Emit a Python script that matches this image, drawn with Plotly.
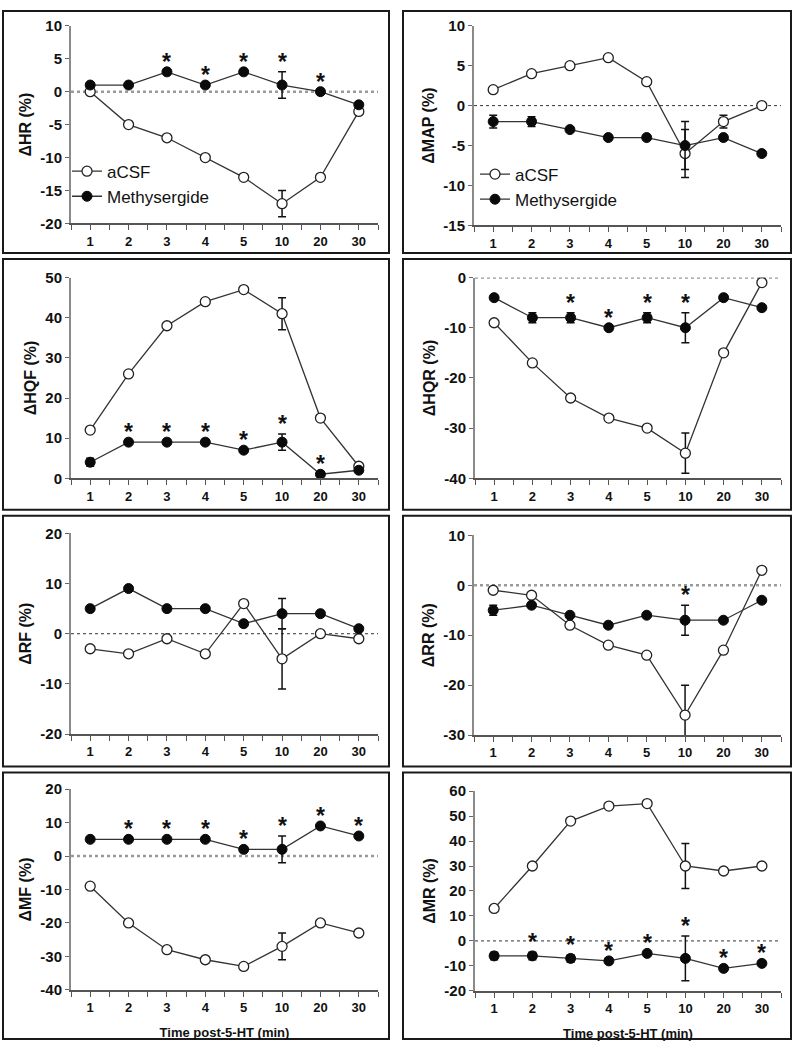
import plotly.graph_objects as go

# ---------------- data ----------------
times = ['1', '2', '3', '4', '5', '10', '20', '30']

hr_acsf = [0, -5, -7, -10, -13, -17, -13, -3]
hr_acsf_err = [0, 0, 0, 0, 0, 2, 0, 0]
hr_meth = [1, 1, 3, 1, 3, 1, 0, -2]
hr_meth_err = [0, 0, 0, 0, 0, 2, 0, 0]
hr_sig = [0, 0, 1, 1, 1, 1, 1, 0]

map_acsf = [2, 4, 5, 6, 3, -6, -2, 0]
map_acsf_err = [0, 0, 0, 0, 0, 3, 0.8, 0]
map_meth = [-2, -2, -3, -4, -4, -5, -4, -6]
map_meth_err = [0.8, 0.6, 0, 0, 0, 3, 0, 0]
map_sig = [0, 0, 0, 0, 0, 0, 0, 0]

hqf_acsf = [12, 26, 38, 44, 47, 41, 15, 3]
hqf_acsf_err = [0, 0, 0, 0, 0, 4, 0, 0]
hqf_meth = [4, 9, 9, 9, 7, 9, 1, 2]
hqf_meth_err = [1, 0, 0, 0, 0, 2, 0, 0]
hqf_sig = [0, 1, 1, 1, 1, 1, 1, 0]

hqr_acsf = [-9, -17, -24, -28, -30, -35, -15, -1]
hqr_acsf_err = [0, 0, 0, 0, 0, 4, 0, 0]
hqr_meth = [-4, -8, -8, -10, -8, -10, -4, -6]
hqr_meth_err = [0, 1, 1, 0, 1, 3, 0, 0]
hqr_sig = [0, 0, 1, 1, 1, 1, 0, 0]

rf_acsf = [-3, -4, -1, -4, 6, -5, 0, -1]
rf_acsf_err = [0, 0, 0, 0, 0, 6, 0, 0]
rf_meth = [5, 9, 5, 5, 2, 4, 4, 1]
rf_meth_err = [0, 0, 0, 0, 0, 3, 0, 0]
rf_sig = [0, 0, 0, 0, 0, 0, 0, 0]

rr_acsf = [-1, -2, -8, -12, -14, -26, -13, 3]
rr_acsf_err = [0, 0, 0, 0, 0, 6, 0, 0]
rr_meth = [-5, -4, -6, -8, -6, -7, -7, -3]
rr_meth_err = [1, 0, 0, 0, 0, 3, 0, 0]
rr_sig = [0, 0, 0, 0, 0, 1, 0, 0]

mf_acsf = [-9, -20, -28, -31, -33, -27, -20, -23]
mf_acsf_err = [0, 0, 0, 1, 0, 4, 0, 1]
mf_meth = [5, 5, 5, 5, 2, 2, 9, 6]
mf_meth_err = [0, 0, 0, 0, 0, 4, 0, 0]
mf_sig = [0, 1, 1, 1, 1, 1, 1, 1]

mr_acsf = [13, 30, 48, 54, 55, 30, 28, 30]
mr_acsf_err = [0, 0, 0, 0, 0, 9, 0, 0]
mr_meth = [-6, -6, -7, -8, -5, -7, -11, -9]
mr_meth_err = [1.5, 1.5, 1.5, 0, 0, 9, 0, 0]
mr_sig = [0, 1, 1, 1, 1, 1, 1, 1]

y_titles = ['ΔHR (%)', 'ΔMAP (%)', 'ΔHQF (%)', 'ΔHQR (%)',
            'ΔRF (%)', 'ΔRR (%)', 'ΔMF (%)', 'ΔMR (%)']
x_title = 'Time post-5-HT (min)'
series_names = ['aCSF', 'Methysergide']

# ---------------- layout config ----------------
W, H = 793, 1050
FONT = 'Liberation Sans, Arial, sans-serif'

panels = [
    dict(a=hr_acsf, ae=hr_acsf_err, m=hr_meth, me=hr_meth_err, sig=hr_sig, yr=[-20, 10], dt=5),
    dict(a=map_acsf, ae=map_acsf_err, m=map_meth, me=map_meth_err, sig=map_sig, yr=[-15, 10], dt=5),
    dict(a=hqf_acsf, ae=hqf_acsf_err, m=hqf_meth, me=hqf_meth_err, sig=hqf_sig, yr=[0, 50], dt=10),
    dict(a=hqr_acsf, ae=hqr_acsf_err, m=hqr_meth, me=hqr_meth_err, sig=hqr_sig, yr=[-40, 0], dt=10),
    dict(a=rf_acsf, ae=rf_acsf_err, m=rf_meth, me=rf_meth_err, sig=rf_sig, yr=[-20, 20], dt=10),
    dict(a=rr_acsf, ae=rr_acsf_err, m=rr_meth, me=rr_meth_err, sig=rr_sig, yr=[-30, 10], dt=10),
    dict(a=mf_acsf, ae=mf_acsf_err, m=mf_meth, me=mf_meth_err, sig=mf_sig, yr=[-40, 20], dt=10),
    dict(a=mr_acsf, ae=mr_acsf_err, m=mr_meth, me=mr_meth_err, sig=mr_sig, yr=[-20, 60], dt=10),
]

# plot areas in pixels (x0, x1, y0_top, y1_bottom)
plot_boxes = [(71, 378, 17, 218), (474, 781, 17, 220),
              (71, 378, 273, 477), (475, 781, 273, 477),
              (71, 378, 533, 737), (474, 781, 535, 738),
              (71, 378, 793, 997), (475, 781, 795, 998)]
border_boxes = [(3, 389, 2, 248), (403, 791, 2, 248),
                (3, 389, 254, 509), (403, 791, 254, 509),
                (3, 389, 515, 770), (403, 791, 515, 770),
                (3, 389, 776, 1047), (403, 791, 776, 1047)]
zero_styles = ['thick', 'thin', 'none', 'thick', 'thin', 'thick', 'thick', 'thin']

def px(x):
    return x / W

def py(y):
    return 1 - y / H

def nz(errs):
    return [e if e else None for e in errs]

fig = go.Figure()
layout = dict(width=W, height=H, margin=dict(l=0, r=0, t=0, b=0),
              paper_bgcolor='white', plot_bgcolor='white', showlegend=True,
              font=dict(family=FONT, color='#111'))
shapes = []
annotations = []

xpos = list(range(len(times)))
tickvals = []
ticktext = []
for i, t in enumerate(times):
    tickvals += [i - 0.5, i]
    ticktext += ['', t]
tickvals.append(len(times) - 0.5)
ticktext.append('')

for k, p in enumerate(panels):
    n = k + 1
    xa = 'x' if n == 1 else f'x{n}'
    ya = 'y' if n == 1 else f'y{n}'
    xkey = 'xaxis' if n == 1 else f'xaxis{n}'
    ykey = 'yaxis' if n == 1 else f'yaxis{n}'
    x0, x1, yt, yb = plot_boxes[k]

    legend_name = None
    if k == 0:
        legend_name = 'legend'
    elif k == 1:
        legend_name = 'legend2'

    fig.add_trace(go.Scatter(
        x=xpos, y=p['a'], xaxis=xa, yaxis=ya, mode='lines+markers',
        name=series_names[0], showlegend=legend_name is not None,
        legend=legend_name or 'legend',
        line=dict(color='#333', width=1.3),
        marker=dict(symbol='circle', size=10, color='white', line=dict(color='#222', width=1.3)),
        error_y=dict(type='data', array=nz(p['ae']), visible=True, thickness=1.5, width=4, color='#111'),
    ))
    fig.add_trace(go.Scatter(
        x=xpos, y=p['m'], xaxis=xa, yaxis=ya, mode='lines+markers',
        name=series_names[1], showlegend=legend_name is not None,
        legend=legend_name or 'legend',
        line=dict(color='#333', width=1.3),
        marker=dict(symbol='circle', size=10, color='#0a0a0a', line=dict(color='#0a0a0a', width=1)),
        error_y=dict(type='data', array=nz(p['me']), visible=True, thickness=1.5, width=4, color='#111'),
    ))

    # y tick labels with plain hyphen minus, as in the original figure
    yv = list(range(p['yr'][0], p['yr'][1] + 1, p['dt']))
    yt_text = [str(v) for v in yv]

    bottom = k >= 6
    layout[xkey] = dict(
        domain=[px(x0), px(x1)], anchor=ya, range=[-0.5, len(times) - 0.5],
        showgrid=False, zeroline=False, showline=True, linecolor='#555', linewidth=1.5,
        tickmode='array', tickvals=tickvals, ticktext=ticktext,
        ticks='outside', ticklen=5, tickwidth=1, tickcolor='#555',
        tickfont=dict(family=FONT, size=13, color='#111', weight='bold'),
        fixedrange=True,
        title=dict(text=x_title if bottom else '', standoff=14,
                   font=dict(family=FONT, size=13, color='#111', weight='bold')),
    )
    layout[ykey] = dict(
        domain=[py(yb), py(yt)], anchor=xa, range=p['yr'],
        tickmode='array', tickvals=yv, ticktext=yt_text,
        showgrid=False, zeroline=False, showline=True, linecolor='#8a8a8a', linewidth=2,
        ticks='outside', ticklen=4, tickwidth=1, tickcolor='#666',
        tickfont=dict(family=FONT, size=15, color='#111', weight='bold'),
        fixedrange=True,
        title=dict(text=y_titles[k], standoff=5,
                   font=dict(family=FONT, size=16, color='#111', weight='bold')),
    )

    zs = zero_styles[k]
    if zs != 'none':
        shapes.append(dict(
            type='line', xref=f'{xa} domain', yref=ya, x0=0, x1=1, y0=0, y1=0, layer='below',
            line=dict(color='#9a9a9a' if zs == 'thick' else '#333',
                      width=2.5 if zs == 'thick' else 1, dash='dot')))

    bx0, bx1, by0, by1 = border_boxes[k]
    shapes.append(dict(type='rect', xref='paper', yref='paper',
                       x0=px(bx0), x1=px(bx1), y0=py(by1), y1=py(by0),
                       line=dict(color='#1a1a1a', width=2)))

    for i, s in enumerate(p['sig']):
        if s:
            top = p['m'][i] + (p['me'][i] or 0)
            annotations.append(dict(
                x=xpos[i], y=top, xref=xa, yref=ya, text='*', showarrow=False,
                yanchor='middle', yshift=10,
                font=dict(family=FONT, size=23, color='#111', weight='bold')))

layout['shapes'] = shapes
layout['annotations'] = annotations
layout['legend'] = dict(x=px(67), y=py(147), xanchor='left', yanchor='top',
                        bgcolor='rgba(0,0,0,0)', itemwidth=30, tracegroupgap=0,
                        font=dict(family=FONT, size=17, color='#111'))
layout['legend2'] = dict(x=px(475), y=py(150), xanchor='left', yanchor='top',
                         bgcolor='rgba(0,0,0,0)', itemwidth=30, tracegroupgap=0,
                         font=dict(family=FONT, size=17, color='#111'))
fig.update_layout(**layout)
fig.write_html('out.html', config={'displayModeBar': False},
               post_script="document.body.style.margin='0';document.body.style.overflow='hidden';")
